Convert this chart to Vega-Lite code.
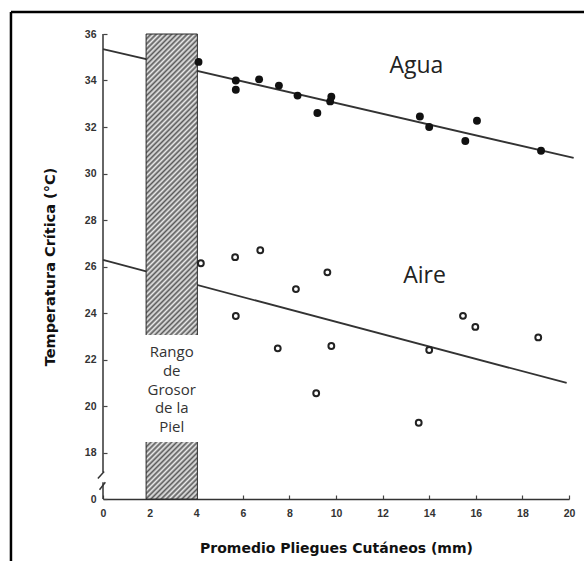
{
  "$schema": "https://vega.github.io/schema/vega-lite/v6.json",
  "width": 466,
  "height": 465,
  "autosize": {"type": "none"},
  "padding": {"left": 103, "top": 34, "right": 15, "bottom": 62},
  "background": "white",
  "config": {"view": {"stroke": null}, "axis": {"grid": false}},
  "datasets": {
    "puntos": [
      {"grupo": "Agua", "pliegue": 4.1, "temp": 34.8},
      {"grupo": "Agua", "pliegue": 5.7, "temp": 34.0},
      {"grupo": "Agua", "pliegue": 5.7, "temp": 33.6},
      {"grupo": "Agua", "pliegue": 6.7, "temp": 34.05},
      {"grupo": "Agua", "pliegue": 7.55, "temp": 33.78},
      {"grupo": "Agua", "pliegue": 8.35, "temp": 33.35},
      {"grupo": "Agua", "pliegue": 9.2, "temp": 32.6},
      {"grupo": "Agua", "pliegue": 9.8, "temp": 33.3},
      {"grupo": "Agua", "pliegue": 9.75, "temp": 33.1},
      {"grupo": "Agua", "pliegue": 13.6, "temp": 32.45},
      {"grupo": "Agua", "pliegue": 14.0, "temp": 32.0},
      {"grupo": "Agua", "pliegue": 15.55, "temp": 31.4},
      {"grupo": "Agua", "pliegue": 16.05, "temp": 32.27},
      {"grupo": "Agua", "pliegue": 18.8, "temp": 30.98},
      {"grupo": "Aire", "pliegue": 4.2, "temp": 26.14},
      {"grupo": "Aire", "pliegue": 5.67, "temp": 26.4},
      {"grupo": "Aire", "pliegue": 6.75, "temp": 26.7},
      {"grupo": "Aire", "pliegue": 5.7, "temp": 23.87},
      {"grupo": "Aire", "pliegue": 8.28, "temp": 25.03},
      {"grupo": "Aire", "pliegue": 9.63, "temp": 25.75},
      {"grupo": "Aire", "pliegue": 7.5, "temp": 22.48},
      {"grupo": "Aire", "pliegue": 9.8, "temp": 22.58},
      {"grupo": "Aire", "pliegue": 9.15, "temp": 20.55},
      {"grupo": "Aire", "pliegue": 15.45, "temp": 23.88},
      {"grupo": "Aire", "pliegue": 15.98, "temp": 23.4},
      {"grupo": "Aire", "pliegue": 18.68, "temp": 22.95},
      {"grupo": "Aire", "pliegue": 14.0, "temp": 22.41},
      {"grupo": "Aire", "pliegue": 13.55, "temp": 19.28}
    ],
    "rectas": [
      {"grupo": "Agua", "pliegue": 0, "temp": 35.35},
      {"grupo": "Agua", "pliegue": 20.2, "temp": 30.67},
      {"grupo": "Aire", "pliegue": 0, "temp": 26.28},
      {"grupo": "Aire", "pliegue": 19.9, "temp": 20.99}
    ],
    "etiquetas": [
      {"texto": "Agua", "pliegue": 13.45, "temp": 34.32},
      {"texto": "Aire", "pliegue": 13.8, "temp": 25.29}
    ],
    "rango": [
      {"texto": "Rango", "pliegue": 2.95, "temp": 22.11},
      {"texto": "de", "pliegue": 2.95, "temp": 21.3},
      {"texto": "Grosor", "pliegue": 2.95, "temp": 20.49},
      {"texto": "de la", "pliegue": 2.95, "temp": 19.68},
      {"texto": "Piel", "pliegue": 2.95, "temp": 18.87}
    ],
    "uno": [{}]
  },
  "layer": [
    {
      "data": {"name": "rectas"},
      "mark": {"type": "line", "color": "#333333", "strokeWidth": 1.8},
      "encoding": {
        "x": {
          "field": "pliegue", "type": "quantitative",
          "scale": {"domain": [0, 20], "nice": false, "zero": false},
          "axis": {
            "values": [0, 2, 4, 6, 8, 10, 12, 14, 16, 18, 20],
            "title": "Promedio Pliegues Cutáneos (mm)",
            "titleFont": "DejaVu Sans", "titleFontSize": 14, "titleFontWeight": "bold", "titleColor": "#111111",
            "titleX": 233, "titleY": 49, "titleBaseline": "middle", "titleAlign": "center",
            "labelFont": "Liberation Sans", "labelFontWeight": "bold", "labelFontSize": 10.5, "labelColor": "#333333",
            "labelFlush": false, "labelPadding": 13,
            "tickSize": -4, "tickColor": "#444444", "tickWidth": 1.2,
            "domainColor": "#333333", "domainWidth": 1.5
          }
        },
        "y": {
          "field": "temp", "type": "quantitative",
          "scale": {"domain": [16, 36], "nice": false, "zero": false},
          "axis": {
            "values": [16, 18, 20, 22, 24, 26, 28, 30, 32, 34, 36],
            "labelExpr": "datum.value == 16 ? '0' : datum.label",
            "title": "Temperatura Crítica (°C)",
            "titleFont": "DejaVu Sans", "titleFontSize": 14.5, "titleFontWeight": "bold", "titleColor": "#111111",
            "titleX": -53, "titleY": 232.5, "titleAngle": 270, "titleBaseline": "middle", "titleAlign": "center",
            "labelFont": "Liberation Sans", "labelFontWeight": "bold", "labelFontSize": 10.5, "labelColor": "#333333",
            "labelFlush": false, "labelPadding": 11,
            "tickSize": -4, "tickColor": "#444444", "tickWidth": 1.2,
            "domain": false
          }
        },
        "detail": {"field": "grupo"}
      }
    },
    {
      "data": {"name": "uno"},
      "mark": {
        "type": "rect",
        "stroke": "#2a2a2a",
        "strokeWidth": 1,
        "fill": {
          "x1": 0, "y1": 0, "x2": 0.121, "y2": 1.097,
          "gradient": "linear",
          "stops": [
{"offset":0,"color":"#5a5a5a"},{"offset":0.005,"color":"#ebebeb"},{"offset":0.01,"color":"#5a5a5a"},{"offset":0.015,"color":"#ebebeb"},
{"offset":0.02,"color":"#5a5a5a"},{"offset":0.025,"color":"#ebebeb"},{"offset":0.03,"color":"#5a5a5a"},{"offset":0.035,"color":"#ebebeb"},
{"offset":0.04,"color":"#5a5a5a"},{"offset":0.045,"color":"#ebebeb"},{"offset":0.05,"color":"#5a5a5a"},{"offset":0.055,"color":"#ebebeb"},
{"offset":0.06,"color":"#5a5a5a"},{"offset":0.065,"color":"#ebebeb"},{"offset":0.07,"color":"#5a5a5a"},{"offset":0.075,"color":"#ebebeb"},
{"offset":0.08,"color":"#5a5a5a"},{"offset":0.085,"color":"#ebebeb"},{"offset":0.09,"color":"#5a5a5a"},{"offset":0.095,"color":"#ebebeb"},
{"offset":0.1,"color":"#5a5a5a"},{"offset":0.105,"color":"#ebebeb"},{"offset":0.11,"color":"#5a5a5a"},{"offset":0.115,"color":"#ebebeb"},
{"offset":0.12,"color":"#5a5a5a"},{"offset":0.125,"color":"#ebebeb"},{"offset":0.13,"color":"#5a5a5a"},{"offset":0.135,"color":"#ebebeb"},
{"offset":0.14,"color":"#5a5a5a"},{"offset":0.145,"color":"#ebebeb"},{"offset":0.15,"color":"#5a5a5a"},{"offset":0.155,"color":"#ebebeb"},
{"offset":0.16,"color":"#5a5a5a"},{"offset":0.165,"color":"#ebebeb"},{"offset":0.17,"color":"#5a5a5a"},{"offset":0.175,"color":"#ebebeb"},
{"offset":0.18,"color":"#5a5a5a"},{"offset":0.185,"color":"#ebebeb"},{"offset":0.19,"color":"#5a5a5a"},{"offset":0.195,"color":"#ebebeb"},
{"offset":0.2,"color":"#5a5a5a"},{"offset":0.205,"color":"#ebebeb"},{"offset":0.21,"color":"#5a5a5a"},{"offset":0.215,"color":"#ebebeb"},
{"offset":0.22,"color":"#5a5a5a"},{"offset":0.225,"color":"#ebebeb"},{"offset":0.23,"color":"#5a5a5a"},{"offset":0.235,"color":"#ebebeb"},
{"offset":0.24,"color":"#5a5a5a"},{"offset":0.245,"color":"#ebebeb"},{"offset":0.25,"color":"#5a5a5a"},{"offset":0.255,"color":"#ebebeb"},
{"offset":0.26,"color":"#5a5a5a"},{"offset":0.265,"color":"#ebebeb"},{"offset":0.27,"color":"#5a5a5a"},{"offset":0.275,"color":"#ebebeb"},
{"offset":0.28,"color":"#5a5a5a"},{"offset":0.285,"color":"#ebebeb"},{"offset":0.29,"color":"#5a5a5a"},{"offset":0.295,"color":"#ebebeb"},
{"offset":0.3,"color":"#5a5a5a"},{"offset":0.305,"color":"#ebebeb"},{"offset":0.31,"color":"#5a5a5a"},{"offset":0.315,"color":"#ebebeb"},
{"offset":0.32,"color":"#5a5a5a"},{"offset":0.325,"color":"#ebebeb"},{"offset":0.33,"color":"#5a5a5a"},{"offset":0.335,"color":"#ebebeb"},
{"offset":0.34,"color":"#5a5a5a"},{"offset":0.345,"color":"#ebebeb"},{"offset":0.35,"color":"#5a5a5a"},{"offset":0.355,"color":"#ebebeb"},
{"offset":0.36,"color":"#5a5a5a"},{"offset":0.365,"color":"#ebebeb"},{"offset":0.37,"color":"#5a5a5a"},{"offset":0.375,"color":"#ebebeb"},
{"offset":0.38,"color":"#5a5a5a"},{"offset":0.385,"color":"#ebebeb"},{"offset":0.39,"color":"#5a5a5a"},{"offset":0.395,"color":"#ebebeb"},
{"offset":0.4,"color":"#5a5a5a"},{"offset":0.405,"color":"#ebebeb"},{"offset":0.41,"color":"#5a5a5a"},{"offset":0.415,"color":"#ebebeb"},
{"offset":0.42,"color":"#5a5a5a"},{"offset":0.425,"color":"#ebebeb"},{"offset":0.43,"color":"#5a5a5a"},{"offset":0.435,"color":"#ebebeb"},
{"offset":0.44,"color":"#5a5a5a"},{"offset":0.445,"color":"#ebebeb"},{"offset":0.45,"color":"#5a5a5a"},{"offset":0.455,"color":"#ebebeb"},
{"offset":0.46,"color":"#5a5a5a"},{"offset":0.465,"color":"#ebebeb"},{"offset":0.47,"color":"#5a5a5a"},{"offset":0.475,"color":"#ebebeb"},
{"offset":0.48,"color":"#5a5a5a"},{"offset":0.485,"color":"#ebebeb"},{"offset":0.49,"color":"#5a5a5a"},{"offset":0.495,"color":"#ebebeb"},
{"offset":0.5,"color":"#5a5a5a"},{"offset":0.505,"color":"#ebebeb"},{"offset":0.51,"color":"#5a5a5a"},{"offset":0.515,"color":"#ebebeb"},
{"offset":0.52,"color":"#5a5a5a"},{"offset":0.525,"color":"#ebebeb"},{"offset":0.53,"color":"#5a5a5a"},{"offset":0.535,"color":"#ebebeb"},
{"offset":0.54,"color":"#5a5a5a"},{"offset":0.545,"color":"#ebebeb"},{"offset":0.55,"color":"#5a5a5a"},{"offset":0.555,"color":"#ebebeb"},
{"offset":0.56,"color":"#5a5a5a"},{"offset":0.565,"color":"#ebebeb"},{"offset":0.57,"color":"#5a5a5a"},{"offset":0.575,"color":"#ebebeb"},
{"offset":0.58,"color":"#5a5a5a"},{"offset":0.585,"color":"#ebebeb"},{"offset":0.59,"color":"#5a5a5a"},{"offset":0.595,"color":"#ebebeb"},
{"offset":0.6,"color":"#5a5a5a"},{"offset":0.605,"color":"#ebebeb"},{"offset":0.61,"color":"#5a5a5a"},{"offset":0.615,"color":"#ebebeb"},
{"offset":0.62,"color":"#5a5a5a"},{"offset":0.625,"color":"#ebebeb"},{"offset":0.63,"color":"#5a5a5a"},{"offset":0.635,"color":"#ebebeb"},
{"offset":0.64,"color":"#5a5a5a"},{"offset":0.645,"color":"#ebebeb"},{"offset":0.65,"color":"#5a5a5a"},{"offset":0.655,"color":"#ebebeb"},
{"offset":0.66,"color":"#5a5a5a"},{"offset":0.665,"color":"#ebebeb"},{"offset":0.67,"color":"#5a5a5a"},{"offset":0.675,"color":"#ebebeb"},
{"offset":0.68,"color":"#5a5a5a"},{"offset":0.685,"color":"#ebebeb"},{"offset":0.69,"color":"#5a5a5a"},{"offset":0.695,"color":"#ebebeb"},
{"offset":0.7,"color":"#5a5a5a"},{"offset":0.705,"color":"#ebebeb"},{"offset":0.71,"color":"#5a5a5a"},{"offset":0.715,"color":"#ebebeb"},
{"offset":0.72,"color":"#5a5a5a"},{"offset":0.725,"color":"#ebebeb"},{"offset":0.73,"color":"#5a5a5a"},{"offset":0.735,"color":"#ebebeb"},
{"offset":0.74,"color":"#5a5a5a"},{"offset":0.745,"color":"#ebebeb"},{"offset":0.75,"color":"#5a5a5a"},{"offset":0.755,"color":"#ebebeb"},
{"offset":0.76,"color":"#5a5a5a"},{"offset":0.765,"color":"#ebebeb"},{"offset":0.77,"color":"#5a5a5a"},{"offset":0.775,"color":"#ebebeb"},
{"offset":0.78,"color":"#5a5a5a"},{"offset":0.785,"color":"#ebebeb"},{"offset":0.79,"color":"#5a5a5a"},{"offset":0.795,"color":"#ebebeb"},
{"offset":0.8,"color":"#5a5a5a"},{"offset":0.805,"color":"#ebebeb"},{"offset":0.81,"color":"#5a5a5a"},{"offset":0.815,"color":"#ebebeb"},
{"offset":0.82,"color":"#5a5a5a"},{"offset":0.825,"color":"#ebebeb"},{"offset":0.83,"color":"#5a5a5a"},{"offset":0.835,"color":"#ebebeb"},
{"offset":0.84,"color":"#5a5a5a"},{"offset":0.845,"color":"#ebebeb"},{"offset":0.85,"color":"#5a5a5a"},{"offset":0.855,"color":"#ebebeb"},
{"offset":0.86,"color":"#5a5a5a"},{"offset":0.865,"color":"#ebebeb"},{"offset":0.87,"color":"#5a5a5a"},{"offset":0.875,"color":"#ebebeb"},
{"offset":0.88,"color":"#5a5a5a"},{"offset":0.885,"color":"#ebebeb"},{"offset":0.89,"color":"#5a5a5a"},{"offset":0.895,"color":"#ebebeb"},
{"offset":0.9,"color":"#5a5a5a"},{"offset":0.905,"color":"#ebebeb"},{"offset":0.91,"color":"#5a5a5a"},{"offset":0.915,"color":"#ebebeb"},
{"offset":0.92,"color":"#5a5a5a"},{"offset":0.925,"color":"#ebebeb"},{"offset":0.93,"color":"#5a5a5a"},{"offset":0.935,"color":"#ebebeb"},
{"offset":0.94,"color":"#5a5a5a"},{"offset":0.945,"color":"#ebebeb"},{"offset":0.95,"color":"#5a5a5a"},{"offset":0.955,"color":"#ebebeb"},
{"offset":0.96,"color":"#5a5a5a"},{"offset":0.965,"color":"#ebebeb"},{"offset":0.97,"color":"#5a5a5a"},{"offset":0.975,"color":"#ebebeb"},
{"offset":0.98,"color":"#5a5a5a"},{"offset":0.985,"color":"#ebebeb"},{"offset":0.99,"color":"#5a5a5a"},{"offset":0.995,"color":"#ebebeb"},
{"offset":1,"color":"#5a5a5a"}
          ]
        }
      },
      "encoding": {
        "x": {"datum": 1.85, "type": "quantitative"},
        "x2": {"datum": 4.05},
        "y": {"datum": 16, "type": "quantitative"},
        "y2": {"datum": 36}
      }
    },
    {
      "data": {"name": "uno"},
      "mark": {"type": "rect", "fill": "white", "stroke": null},
      "encoding": {
        "x": {"datum": 1.7, "type": "quantitative"},
        "x2": {"datum": 4.2},
        "y": {"datum": 18.45, "type": "quantitative"},
        "y2": {"datum": 23.05}
      }
    },
    {
      "data": {"name": "uno"},
      "mark": {"type": "rule", "color": "#333333", "strokeWidth": 1.5},
      "encoding": {
        "x": {"datum": 0, "type": "quantitative"},
        "y": {"datum": 36, "type": "quantitative"},
        "y2": {"datum": 17.15}
      }
    },
    {
      "data": {"name": "uno"},
      "mark": {"type": "rule", "color": "#333333", "strokeWidth": 1.5},
      "encoding": {
        "x": {"datum": 0, "type": "quantitative"},
        "y": {"datum": 16.72, "type": "quantitative"},
        "y2": {"datum": 16}
      }
    },
    {
      "data": {"name": "uno"},
      "mark": {"type": "rule", "color": "#333333", "strokeWidth": 1.5},
      "encoding": {
        "x": {"datum": -0.22, "type": "quantitative"},
        "x2": {"datum": 0.05},
        "y": {"datum": 16.88, "type": "quantitative"},
        "y2": {"datum": 17.18}
      }
    },
    {
      "data": {"name": "uno"},
      "mark": {"type": "rule", "color": "#333333", "strokeWidth": 1.5},
      "encoding": {
        "x": {"datum": -0.15, "type": "quantitative"},
        "x2": {"datum": 0.1},
        "y": {"datum": 16.4, "type": "quantitative"},
        "y2": {"datum": 16.72}
      }
    },
    {
      "data": {"name": "uno"},
      "mark": {"type": "rule", "color": "#000000", "strokeWidth": 2.5},
      "encoding": {
        "x": {"datum": -3.95, "type": "quantitative"},
        "x2": {"datum": 21},
        "y": {"datum": 36.95, "type": "quantitative"},
        "y2": {"datum": 36.95}
      }
    },
    {
      "data": {"name": "uno"},
      "mark": {"type": "rule", "color": "#000000", "strokeWidth": 2.5},
      "encoding": {
        "x": {"datum": -3.95, "type": "quantitative"},
        "y": {"datum": 36.95, "type": "quantitative"},
        "y2": {"datum": 13}
      }
    },
    {
      "data": {"name": "puntos"},
      "transform": [{"filter": "datum.grupo == 'Agua'"}],
      "mark": {"type": "circle", "size": 62, "color": "#111111", "opacity": 1},
      "encoding": {
        "x": {"field": "pliegue", "type": "quantitative"},
        "y": {"field": "temp", "type": "quantitative"}
      }
    },
    {
      "data": {"name": "puntos"},
      "transform": [{"filter": "datum.grupo == 'Aire'"}],
      "mark": {"type": "point", "shape": "circle", "size": 34, "filled": false, "stroke": "#222222", "strokeWidth": 2, "opacity": 1},
      "encoding": {
        "x": {"field": "pliegue", "type": "quantitative"},
        "y": {"field": "temp", "type": "quantitative"}
      }
    },
    {
      "data": {"name": "etiquetas"},
      "mark": {"type": "text", "font": "Open Sans", "fontSize": 23, "color": "#222222", "align": "center", "baseline": "alphabetic"},
      "encoding": {
        "x": {"field": "pliegue", "type": "quantitative"},
        "y": {"field": "temp", "type": "quantitative"},
        "text": {"field": "texto"}
      }
    },
    {
      "data": {"name": "rango"},
      "mark": {"type": "text", "font": "Open Sans", "fontSize": 15, "color": "#333333", "align": "center", "baseline": "alphabetic"},
      "encoding": {
        "x": {"field": "pliegue", "type": "quantitative"},
        "y": {"field": "temp", "type": "quantitative"},
        "text": {"field": "texto"}
      }
    }
  ]
}
